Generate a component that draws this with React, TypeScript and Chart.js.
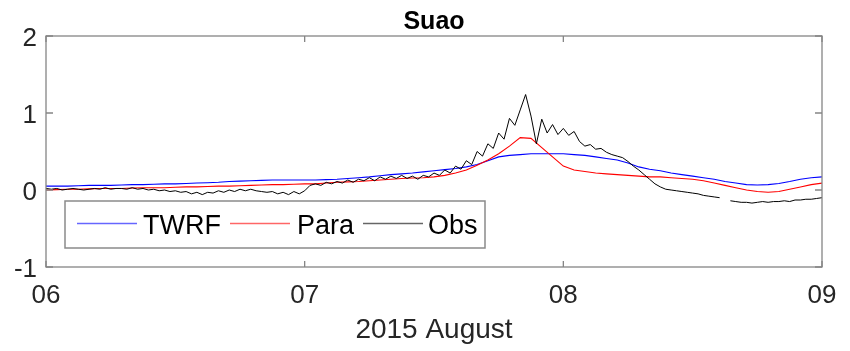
import React, { useEffect, useRef } from "react";
import { Chart, registerables } from "chart.js";

Chart.register(...registerables);

const TITLE = "Suao";
const X_TITLE = "2015 August";
const X_TICK_HOURS = [0, 24, 48, 72];
const X_TICK_LABELS = ["06", "07", "08", "09"];
const Y_TICKS = [2, 1, 0, -1];
const Y_TICK_LABELS = ["2", "1", "0", "-1"];
const SERIES_NAMES = ["TWRF", "Para", "Obs"];
const SERIES_COLORS = ["#0000ff", "#ff0000", "#000000"];

// hourly model output, 06 Aug 00:00 .. 09 Aug 00:00
const TWRF = [
  0.05, 0.05, 0.05, 0.055, 0.06, 0.06, 0.06, 0.065, 0.07, 0.07, 0.075, 0.08,
  0.08, 0.085, 0.09, 0.095, 0.1, 0.11, 0.115, 0.12, 0.125, 0.13, 0.13, 0.13,
  0.13, 0.13, 0.135, 0.14, 0.15, 0.16, 0.17, 0.185, 0.2, 0.21, 0.22, 0.235,
  0.25, 0.265, 0.28, 0.3, 0.33, 0.38, 0.43, 0.45, 0.46, 0.47, 0.47, 0.47,
  0.47, 0.46, 0.45, 0.43, 0.41, 0.39, 0.35, 0.3, 0.27, 0.25, 0.22, 0.2,
  0.18, 0.16, 0.14, 0.11, 0.09, 0.07, 0.065, 0.07, 0.085, 0.11, 0.14, 0.16,
  0.17,
];

const PARA = [
  0.0, 0.005, 0.01, 0.01, 0.015, 0.02, 0.02, 0.02, 0.025, 0.03, 0.03, 0.03,
  0.035, 0.04, 0.04, 0.045, 0.05, 0.05, 0.055, 0.06, 0.065, 0.07, 0.07, 0.075,
  0.08, 0.08, 0.09, 0.1, 0.105, 0.11, 0.12, 0.13, 0.14, 0.15, 0.155, 0.16,
  0.17, 0.19, 0.22, 0.26, 0.32, 0.39, 0.47, 0.57, 0.68, 0.67, 0.55, 0.43,
  0.31, 0.26, 0.24, 0.22, 0.21, 0.2, 0.19, 0.18, 0.17, 0.17, 0.16, 0.15,
  0.14, 0.12, 0.09, 0.06, 0.03, 0.0, -0.02, -0.03, -0.02, 0.01, 0.04, 0.07,
  0.09,
];

// half-hourly observations (null = missing)
const OBS = [
  0.02, 0.01, 0.02, 0.0, 0.01, 0.02, 0.01, 0.0, 0.01, 0.02, 0.01, 0.03,
  0.01, 0.02, 0.02, 0.01, 0.03, 0.01, 0.02, 0.0, 0.01, -0.01, 0.0, -0.02,
  -0.01, -0.03, -0.02, -0.05, -0.03, -0.06, -0.03, -0.04, -0.01, -0.03, 0.0, -0.02,
  0.01, -0.01, 0.01, -0.01, -0.02, -0.03, -0.02, -0.05, -0.03, -0.06, -0.02, -0.05,
  -0.01, 0.06, 0.08, 0.06, 0.1, 0.08, 0.11, 0.09, 0.13, 0.1, 0.14, 0.12,
  0.16, 0.12, 0.17, 0.14, 0.18, 0.15, 0.19, 0.15, 0.18, 0.14, 0.19, 0.17,
  0.22, 0.19, 0.26, 0.22, 0.31, 0.27, 0.38, 0.33, 0.5, 0.44, 0.6, 0.54,
  0.74, 0.66, 0.93, 0.84, 1.04, 1.24, 0.96, 0.6, 0.92, 0.74, 0.85, 0.72,
  0.8, 0.71, 0.76, 0.63, 0.57, 0.59, 0.53, 0.54, 0.49, 0.46, 0.44, 0.42,
  0.37, 0.31, 0.26, 0.2, 0.14, 0.08, 0.04, 0.01, 0.0, -0.01, -0.02, -0.03,
  -0.04, -0.05, -0.07, -0.08, -0.09, -0.1, null, -0.14, -0.15, -0.16, -0.16, -0.17,
  -0.16, -0.15, -0.16, -0.15, -0.15, -0.14, -0.15, -0.13, -0.13, -0.12, -0.12, -0.11,
  -0.1,
];

const MODEL_STEP_HOURS = 1;
const OBS_STEP_HOURS = 0.5;

const FONT = "'Liberation Sans', Arial, Helvetica, sans-serif";

const matlabAxes = {
  id: "matlabAxes",
  afterDraw(chart: any) {
    const { ctx, chartArea: a } = chart;
    const xs = chart.scales.x;
    const ys = chart.scales.y;
    ctx.save();

    // axes box
    ctx.strokeStyle = "#858585";
    ctx.lineWidth = 1.3;
    ctx.strokeRect(a.left, a.top, a.right - a.left, a.bottom - a.top);

    // inward ticks
    ctx.beginPath();
    X_TICK_HOURS.forEach((h) => {
      const px = xs.getPixelForValue(h);
      ctx.moveTo(px, a.bottom);
      ctx.lineTo(px, a.bottom - 6);
      ctx.moveTo(px, a.top);
      ctx.lineTo(px, a.top + 6);
    });
    Y_TICKS.forEach((v) => {
      const py = ys.getPixelForValue(v);
      ctx.moveTo(a.left, py);
      ctx.lineTo(a.left + 7, py);
      ctx.moveTo(a.right, py);
      ctx.lineTo(a.right - 7, py);
    });
    ctx.stroke();

    // tick labels
    ctx.fillStyle = "#262626";
    ctx.font = `26px ${FONT}`;
    ctx.textBaseline = "alphabetic";
    ctx.textAlign = "right";
    Y_TICKS.forEach((v, i) => {
      const py = ys.getPixelForValue(v);
      ctx.fillText(Y_TICK_LABELS[i], a.left - 9, py + 9.5);
    });
    ctx.textAlign = "center";
    X_TICK_HOURS.forEach((h, i) => {
      const px = xs.getPixelForValue(h);
      ctx.fillText(X_TICK_LABELS[i], px, a.bottom + 36);
    });

    // x axis title
    ctx.font = `28px ${FONT}`;
    ctx.fillText(X_TITLE, (a.left + a.right) / 2, a.bottom + 71);

    // title
    ctx.fillStyle = "#000";
    ctx.font = `bold 25px ${FONT}`;
    ctx.fillText(TITLE, (a.left + a.right) / 2, a.top - 7);

    // legend
    const lx = a.left + 19;
    const ly = a.top + 165;
    const lw = 420;
    const lh = 47;
    ctx.fillStyle = "#fff";
    ctx.fillRect(lx, ly, lw, lh);
    ctx.strokeStyle = "#8a8a8a";
    ctx.lineWidth = 1.5;
    ctx.strokeRect(lx, ly, lw, lh);
    const items = [
      { lineStart: 12, textStart: 78 },
      { lineStart: 165, textStart: 232 },
      { lineStart: 298, textStart: 363 },
    ];
    ctx.font = `27px ${FONT}`;
    ctx.textAlign = "left";
    chart.data.datasets.forEach((ds: any) => {
      const it = items[SERIES_NAMES.indexOf(ds.label)];
      const cy = ly + 22.5;
      ctx.strokeStyle = ds.borderColor;
      ctx.globalAlpha = 0.6;
      ctx.lineWidth = 1.3;
      ctx.beginPath();
      ctx.moveTo(lx + it.lineStart, cy);
      ctx.lineTo(lx + it.lineStart + 60, cy);
      ctx.stroke();
      ctx.globalAlpha = 1;
      ctx.fillStyle = "#000";
      ctx.fillText(ds.label, lx + it.textStart, cy + 10.5);
    });

    ctx.restore();
  },
};

export default function App() {
  const ref = useRef<HTMLCanvasElement | null>(null);

  useEffect(() => {
    if (!ref.current) return;
    const twrfPts = TWRF.map((v, i) => ({ x: i * MODEL_STEP_HOURS, y: v }));
    const paraPts = PARA.map((v, i) => ({ x: i * MODEL_STEP_HOURS, y: v }));
    const obsPts = OBS.map((v, i) => ({ x: i * OBS_STEP_HOURS, y: v }));
    const chart = new Chart(ref.current, {
      type: "line",
      data: {
        datasets: [
          {
            label: SERIES_NAMES[0],
            data: twrfPts,
            borderColor: SERIES_COLORS[0],
            borderWidth: 1.1,
            pointRadius: 0,
            tension: 0,
            order: 2,
          },
          {
            label: SERIES_NAMES[1],
            data: paraPts,
            borderColor: SERIES_COLORS[1],
            borderWidth: 1.1,
            pointRadius: 0,
            tension: 0,
            order: 1,
          },
          {
            label: SERIES_NAMES[2],
            data: obsPts,
            borderColor: SERIES_COLORS[2],
            borderWidth: 1,
            pointRadius: 0,
            tension: 0,
            spanGaps: false,
            order: 0,
          },
        ],
      },
      options: {
        responsive: false,
        animation: false,
        devicePixelRatio: 1,
        layout: { padding: { left: 46, right: 28, top: 36, bottom: 84 } },
        scales: {
          x: { type: "linear", min: 0, max: 72, display: false },
          y: { type: "linear", min: -1, max: 2, display: false },
        },
        plugins: {
          legend: { display: false },
          title: { display: false, text: TITLE },
          tooltip: { enabled: false },
        },
      },
      plugins: [matlabAxes],
    });
    return () => chart.destroy();
  }, []);

  return (
    <div style={{ position: "absolute", left: 0, top: 0, width: 850, height: 351, background: "#fff" }}>
      <canvas ref={ref} width={850} height={351} />
    </div>
  );
}
